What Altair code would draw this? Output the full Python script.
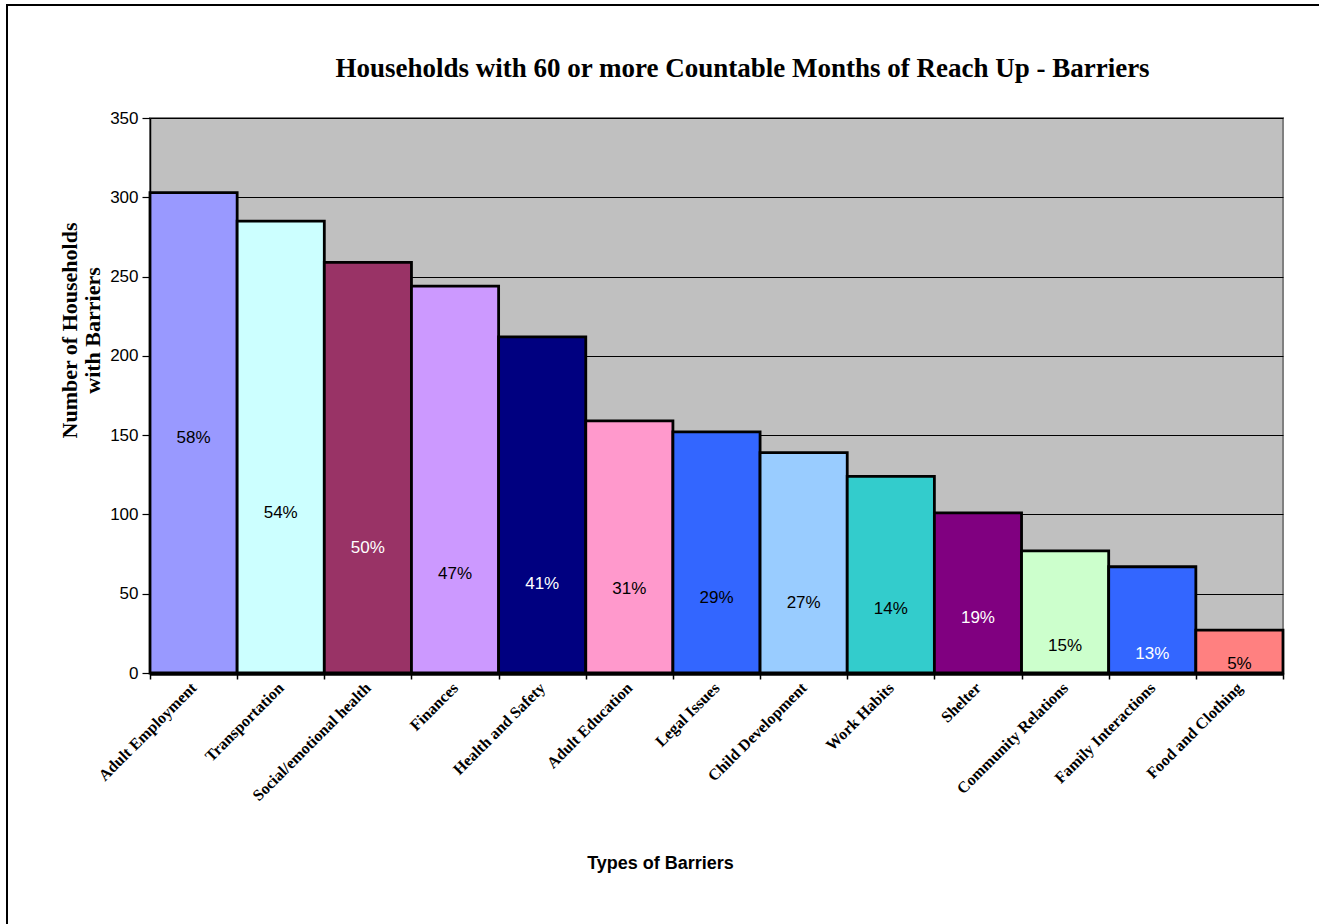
import altair as alt
import pandas as pd

categories = ["Adult Employment", "Transportation", "Social/emotional health", "Finances",
              "Health and Safety", "Adult Education", "Legal Issues", "Child Development",
              "Work Habits", "Shelter", "Community Relations", "Family Interactions",
              "Food and Clothing"]
households = [303, 285, 259, 244, 212, 159, 152, 139, 124, 101, 77, 67, 27]
pct_labels = ["58%", "54%", "50%", "47%", "41%", "31%", "29%", "27%", "14%", "19%", "15%", "13%", "5%"]
label_pos = [148, 101, 79, 62.5, 56, 53, 47.4, 44.2, 40.4, 34.7, 17, 12, 5.7]
bar_colors = ["#9999FF", "#CCFFFF", "#993366", "#CC99FF", "#000080", "#FF99CC", "#3366FF",
              "#99CCFF", "#33CCCC", "#800080", "#CCFFCC", "#3366FF", "#FF8080"]
label_colors = ["black", "black", "white", "black", "white", "black", "black", "black",
                "black", "white", "black", "white", "black"]

df = pd.DataFrame({
    "Barrier": categories,
    "Households": households,
    "Pct": pct_labels,
    "Pos": label_pos,
    "Fill": bar_colors,
    "TextColor": label_colors,
})

x_axis = alt.Axis(title="Types of Barriers", labelAngle=-45, labelAlign="right",
                  labelBaseline="middle", labelFont="Liberation Serif",
                  labelFontWeight="bold", labelFontSize=16, labelColor="black",
                  labelPadding=6, tickBand="extent", ticks=True, tickColor="black",
                  tickSize=6, tickWidth=1.5, domainColor="black", domainWidth=4.5,
                  grid=False, titleFont="Liberation Sans", titleFontWeight="bold",
                  titleFontSize=18, titleColor="black", titleX=510, titleY=190,
                  titleBaseline="middle", titleAlign="center")
y_axis = alt.Axis(title=["Number of Households", "with Barriers"],
                  values=[0, 50, 100, 150, 200, 250, 300, 350],
                  labelFont="Liberation Sans", labelFontSize=17, labelColor="black",
                  labelPadding=4, tickColor="black", tickSize=8, tickWidth=1.2,
                  domainColor="black", domainWidth=1.5,
                  grid=True, gridColor="black", gridWidth=1.2,
                  titleFont="Liberation Serif", titleFontWeight="bold", titleFontSize=22,
                  titleColor="black", titleX=-81, titleY=212, titleAlign="center",
                  titleBaseline="middle", titleLineHeight=23)

x_scale = alt.Scale(paddingInner=0, paddingOuter=0)
y_scale = alt.Scale(domain=[0, 350], nice=False)

bars = alt.Chart(df).mark_bar(stroke="black", strokeWidth=2.8).encode(
    x=alt.X("Barrier:N", sort=categories, scale=x_scale, axis=x_axis),
    y=alt.Y("Households:Q", scale=y_scale, axis=y_axis),
    fill=alt.Fill("Fill:N", scale=None),
)

texts = alt.Chart(df).mark_text(font="Liberation Sans", fontSize=17, baseline="middle", align="center").encode(
    x=alt.X("Barrier:N", sort=categories, scale=x_scale, title="Types of Barriers"),
    y=alt.Y("Pos:Q", scale=y_scale, title=["Number of Households", "with Barriers"]),
    text="Pct:N",
    color=alt.Color("TextColor:N", scale=None),
)

frame = alt.Chart(pd.DataFrame({"a": [0]})).mark_rect(fill=None, stroke="black", strokeWidth=2).encode(
    x=alt.value(-143), x2=alt.value(1180), y=alt.value(-113), y2=alt.value(820)
)

chart = alt.layer(frame, bars, texts).properties(
    width=1133, height=555,
    padding={"left": 150, "top": 118, "right": 36, "bottom": 251},
    autosize=alt.AutoSizeParams(type="none"),
    title=alt.TitleParams("Households with 60 or more Countable Months of Reach Up - Barriers",
                          font="Liberation Serif", fontWeight="bold", fontSize=27, color="black",
                          anchor="middle", dx=26, offset=0, dy=79),
    background="white",
).configure_view(fill="#C0C0C0", stroke="#808080", strokeWidth=2)

chart.save("out.html", embed_options={"renderer": "svg", "actions": False})
